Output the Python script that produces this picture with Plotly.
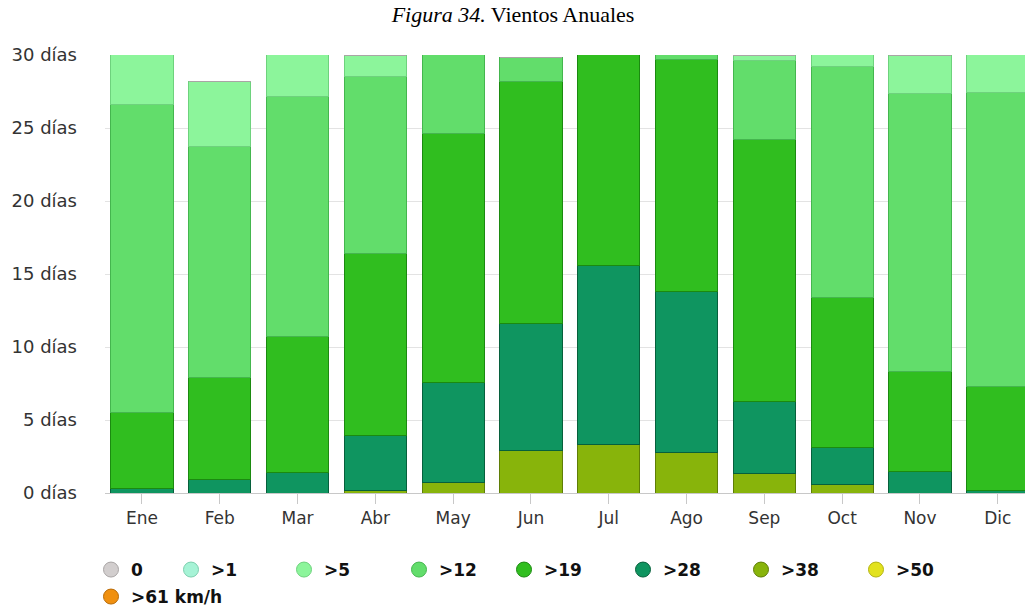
import plotly.graph_objects as go

months = ["Ene", "Feb", "Mar", "Abr", "May", "Jun", "Jul", "Ago", "Sep", "Oct", "Nov", "Dic"]
y_ticks = [0, 5, 10, 15, 20, 25, 30]
y_tick_labels = [f"{v} días" for v in y_ticks]

# days per month in each wind-speed class (km/h)
s0 = [0] * 12
s1 = [0] * 12
s5 = [4.4, 4.5, 3.85, 1.5, 0, 0, 0, 0, 0.4, 1.8, 2.6, 3.55]
s12 = [21.1, 15.8, 16.45, 12.1, 6.35, 1.6, 0, 1.3, 5.4, 15.8, 19.0, 20.15]
s19 = [5.2, 7.0, 9.3, 12.45, 17.1, 16.6, 15.4, 15.9, 17.9, 10.3, 6.9, 7.1]
s28 = [0.3, 0.9, 1.4, 3.8, 6.8, 8.7, 12.25, 11.0, 4.95, 2.55, 1.45, 0.2]
s38 = [0, 0, 0, 0.15, 0.75, 2.9, 3.35, 2.8, 1.35, 0.55, 0, 0]
s50 = [0] * 12
s61 = [0] * 12

series_names = ["0", ">1", ">5", ">12", ">19", ">28", ">38", ">50", ">61 km/h"]
series_values = [s0, s1, s5, s12, s19, s28, s38, s50, s61]
fill_colors = ["#d2cece", "#a6f3d6", "#8cf59b", "#62dd6b", "#30be1f", "#0f9560", "#88b40b", "#e2e21e", "#f0900f"]
line_colors = ["#a9a5a5", "#7ccfae", "#6ed27d", "#44b64e", "#1b8a10", "#06603c", "#5f7e06", "#b3b310", "#b86a06"]

# legend entry placement (container px, left edge of each entry; row)
legend_left_px = [91, 171, 284, 399, 504, 623, 741, 856, 91]
legend_row = [0, 0, 0, 0, 0, 0, 0, 0, 1]
row_center_px = [570, 597]

W, H = 1025, 608
fig = go.Figure()

legend_layouts = {}
for i, (name, fc, lc) in enumerate(zip(series_names, fill_colors, line_colors)):
    key = "legend" if i == 0 else f"legend{i + 1}"
    fig.add_trace(go.Scatter(
        x=[None], y=[None], mode="markers", name=name,
        marker=dict(symbol="circle", size=15, color=fc, line=dict(color=lc, width=1)),
        legendgroup=name, showlegend=True, legend=key, hoverinfo="skip",
    ))
    legend_layouts[key] = dict(
        orientation="h",
        x=legend_left_px[i] / W, xref="container", xanchor="left",
        y=1 - row_center_px[legend_row[i]] / H, yref="container", yanchor="middle",
        font=dict(family="DejaVu Sans, sans-serif", size=17, color="#111", weight="bold"),
        bgcolor="rgba(0,0,0,0)", borderwidth=0,
    )

# stacked bars: strongest wind at the bottom
for name, vals, fc, lc in reversed(list(zip(series_names, series_values, fill_colors, line_colors))):
    fig.add_trace(go.Bar(
        x=months, y=vals, name=name, legendgroup=name, showlegend=False,
        marker=dict(color=fc, line=dict(color=lc, width=1)),
    ))

fig.update_layout(
    width=W, height=H,
    barmode="stack", bargap=0.2,
    paper_bgcolor="white", plot_bgcolor="white",
    margin=dict(l=105, r=0, t=55, b=115, autoexpand=False),
    title=dict(
        text="<i>Figura 34.</i> Vientos Anuales",
        x=513 / W, xanchor="center", xref="container",
        y=1 - 14 / H, yanchor="middle", yref="container",
        font=dict(family="Liberation Serif, Times New Roman, serif", size=22, color="black"),
    ),
    showlegend=True,
    font=dict(family="DejaVu Sans, sans-serif", size=17, color="#333"),
    **legend_layouts,
)

fig.update_xaxes(
    type="category", categoryorder="array", categoryarray=months,
    range=[-0.475, 11.35],
    showgrid=False, showline=True, linecolor="#c8c8c8", linewidth=1,
    ticks="outside", ticklen=10, tickcolor="#c8c8c8", tickwidth=1,
    tickfont=dict(size=17, color="#333"),
)
fig.update_yaxes(
    range=[0, 30], tickvals=y_ticks, ticktext=y_tick_labels,
    showgrid=True, gridcolor="#e3e3e3", gridwidth=1,
    zeroline=False, showline=False, ticks="",
    ticklabelstandoff=27,
    tickfont=dict(size=18, color="#333"),
)

fig.write_html(
    "out.html",
    config={"displayModeBar": False},
    post_script="document.body.style.margin='0';",
)
